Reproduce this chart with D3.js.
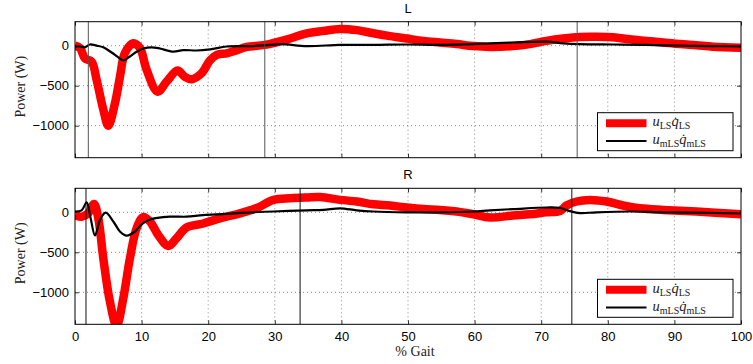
<!DOCTYPE html>
<html lang="en">
<head>
<meta charset="utf-8">
<title>Power L / R</title>
<script src="https://d3js.org/d3.v7.min.js"></script>
<style>
  body { margin: 0; background: #fff; }
  .tick text { font-family: "Liberation Sans", Arial, sans-serif; font-size: 13px; fill: #000; }
  .domain { display: none; }
  .tick line { stroke: #333; }
  .grid line { stroke: #888; stroke-dasharray: 1,3; }
</style>
</head>
<body>
<script>
// ---- data (% gait, power in W) ----
const xTicks = [0, 10, 20, 30, 40, 50, 60, 70, 80, 90, 100];
const yTicks = [0, -500, -1000];

const leftLsX = [0,0.75,1.5,2.5,3.25,4.25,5,6,6.75,7.5,8.75,9.75,10.75,12.4,13.75,15.4,16.5,17.5,19,20.3,21.3,22.8,24.3,25.8,28.5,32.3,34.8,37.3,39.8,42.3,44.8,47.3,49.8,52.3,54.8,57.3,59.8,62.3,65.8,68.3,70.8,73.3,75.8,78.3,80.8,83.3,85.8,88.3,90.8,93.3,95.8,100];
const leftLsY = [0,-30,-160,-200,-430,-800,-1000,-720,-390,-90,30,-30,-300,-575,-450,-310,-390,-420,-345,-180,-115,-95,-55,-15,10,90,155,185,210,195,155,120,90,60,40,20,-5,-15,-5,20,60,90,110,112,105,80,60,40,20,5,-12,-25];

const leftMlsX = [0,0.75,1.5,2.25,3.25,4.25,5.5,6.5,7.25,8.25,9.25,10.25,11.5,12.75,14.75,16.25,18.25,20.3,22.8,26.3,28.5,31,34.8,39.8,44.8,49.8,54.8,59.8,62.3,65.8,70.8,73.3,75.8,80.8,85.8,90.8,95.8,100];
const leftMlsY = [-10,-10,-20,15,0,-20,-85,-145,-185,-135,-75,-35,-20,-35,-75,-55,-60,-45,-10,-5,5,20,-5,10,10,15,10,20,30,40,50,30,20,15,10,0,-5,-10];

const rightLsX = [0,1,2,2.85,3.5,4.25,5.25,6.25,7.25,8.25,9.25,10.25,11.25,12.5,14,15.25,16.75,19.25,21.75,24.25,26.5,27.5,29.8,32.3,34.8,36.8,39.8,42.3,44.8,47.3,49.8,52.3,54.8,57.3,59.8,62.3,65.8,68.3,70.8,72.8,73.8,75.3,77.3,79.8,82.3,84.8,88.3,93.3,100];
const rightLsY = [-35,-55,-10,105,-75,-575,-1120,-1420,-1075,-575,-200,-60,-115,-285,-420,-325,-190,-140,-75,-25,30,60,155,175,185,190,155,135,100,85,60,40,30,10,-25,-65,-40,-25,0,15,85,135,155,135,85,50,30,10,-25];

const rightMlsX = [0,1,1.75,2.35,3,3.75,4.6,5.75,6.75,7.75,9,10,11.25,14.25,16.75,19.25,22.75,26.25,29.8,34.8,37.3,39.8,42.3,44.8,49.8,54.8,59.8,62.3,65.8,70.8,72.8,74.3,75.8,78.3,83.3,88.3,93.3,100];
const rightMlsY = [10,25,125,-75,-290,-95,-5,-115,-240,-292,-240,-150,-90,-55,-55,-35,-20,0,10,25,30,50,25,10,0,0,10,25,40,60,55,15,-10,0,10,0,-5,-15];

const leftEvents = [2.0, 28.5, 75.4];
const rightEvents = [1.65, 33.8, 74.6];

const panels = [
  { title: "L", lsX: leftLsX, lsY: leftLsY, mX: leftMlsX, mY: leftMlsY, events: leftEvents, top: 21.7, evColor: "#555" },
  { title: "R", lsX: rightLsX, lsY: rightLsY, mX: rightMlsX, mY: rightMlsY, events: rightEvents, top: 188.3, evColor: "#111" }
];

const W = 753, H = 364;
const left = 75, right = 741, ph = 136;

const svg = d3.select("body").append("svg")
  .attr("width", W).attr("height", H);

const x = d3.scaleLinear().domain([0, 100]).range([left, right]);

panels.forEach((p, i) => {
  const y = d3.scaleLinear().domain([-1400, 300]).range([p.top + ph, p.top]);
  const g = svg.append("g");

  const clipId = "clip" + i;
  svg.append("clipPath").attr("id", clipId)
    .append("rect").attr("x", left).attr("y", p.top).attr("width", right - left).attr("height", ph);

  // grid
  const grid = g.append("g").attr("class", "grid");
  grid.selectAll(".gx").data(xTicks.slice(1, -1)).enter().append("line")
    .attr("x1", d => x(d)).attr("x2", d => x(d))
    .attr("y1", p.top).attr("y2", p.top + ph);
  grid.selectAll(".gy").data(yTicks).enter().append("line")
    .attr("x1", left).attr("x2", right)
    .attr("y1", d => y(d)).attr("y2", d => y(d));

  // axes, ticks inward
  g.append("g").attr("transform", `translate(0,${p.top + ph})`)
    .call(d3.axisBottom(x).tickValues(xTicks).tickSize(-4).tickPadding(7))
    .call(a => { if (i === 0) a.selectAll("text").remove(); });
  g.append("g").attr("transform", `translate(0,${p.top})`)
    .call(d3.axisTop(x).tickValues(xTicks).tickSize(-4))
    .call(a => a.selectAll("text").remove());
  g.append("g").attr("transform", `translate(${left},0)`)
    .call(d3.axisLeft(y).tickValues(yTicks).tickSize(-4).tickPadding(6)
      .tickFormat(d => d < 0 ? "\u2212" + Math.abs(d) : d));
  g.append("g").attr("transform", `translate(${right},0)`)
    .call(d3.axisRight(y).tickValues(yTicks).tickSize(-4))
    .call(a => a.selectAll("text").remove());

  const line = d3.line().curve(d3.curveCatmullRom.alpha(0.5))
    .x(d => x(d[0])).y(d => y(d[1]));

  const plot = g.append("g").attr("clip-path", `url(#${clipId})`);
  plot.append("path").datum(d3.zip(p.lsX, p.lsY))
    .attr("d", line).attr("fill", "none")
    .attr("stroke", "#ff0000").attr("stroke-width", 8.5).attr("stroke-linejoin", "round");
  plot.append("path").datum(d3.zip(p.mX, p.mY))
    .attr("d", line).attr("fill", "none")
    .attr("stroke", "#000").attr("stroke-width", 2.2);

  // event lines
  g.selectAll(".ev").data(p.events).enter().append("line")
    .attr("x1", d => x(d)).attr("x2", d => x(d))
    .attr("y1", p.top).attr("y2", p.top + ph)
    .attr("stroke", p.evColor).attr("stroke-width", 1);

  // box
  g.append("rect").attr("x", left).attr("y", p.top).attr("width", right - left).attr("height", ph)
    .attr("fill", "none").attr("stroke", "#000").attr("stroke-width", 1);

  // title
  g.append("text").attr("x", (left + right) / 2).attr("y", p.top - 9)
    .attr("text-anchor", "middle")
    .style("font-family", "Liberation Sans, Arial, sans-serif").style("font-size", "13px")
    .text(p.title);

  // y label
  g.append("text")
    .attr("transform", `translate(25,${p.top + ph / 2 - 3}) rotate(-90)`)
    .attr("text-anchor", "middle")
    .style("font-family", "Liberation Serif, serif").style("font-size", "14px").style("fill", "#222")
    .text("Power (W)");

  // legend
  const lx = 597.5, ly = p.top + 91, lw = 135.5, lh = 38;
  const leg = g.append("g");
  leg.append("rect").attr("x", lx).attr("y", ly).attr("width", lw).attr("height", lh)
    .attr("fill", "#fff").attr("stroke", "#000").attr("stroke-width", 1);
  const items = [
    { color: "#ff0000", w: 8, sub: "LS" },
    { color: "#000", w: 2, sub: "mLS" }
  ];
  items.forEach((it, k) => {
    const cy = ly + 10.5 + k * 17.7;
    leg.append("line").attr("x1", lx + 8.5).attr("x2", lx + 49)
      .attr("y1", cy).attr("y2", cy)
      .attr("stroke", it.color).attr("stroke-width", it.w);
    const t = leg.append("text").attr("x", lx + 55).attr("y", cy + 3)
      .style("font-family", "Liberation Serif, serif").style("font-size", "14.5px").style("fill", "#222");
    t.append("tspan").style("font-style", "italic").text("u");
    t.append("tspan").attr("dy", 3).style("font-size", "10px").text(it.sub);
    t.append("tspan").attr("dy", -3).style("font-style", "italic").text("q\u0307");
    t.append("tspan").attr("dy", 3).style("font-size", "10px").text(it.sub);
  });
});

// x label
svg.append("text").attr("x", 415).attr("y", 356)
  .attr("text-anchor", "middle")
  .style("font-family", "Liberation Serif, serif").style("font-size", "14px").style("fill", "#222")
  .text("% Gait");
</script>
</body>
</html>
